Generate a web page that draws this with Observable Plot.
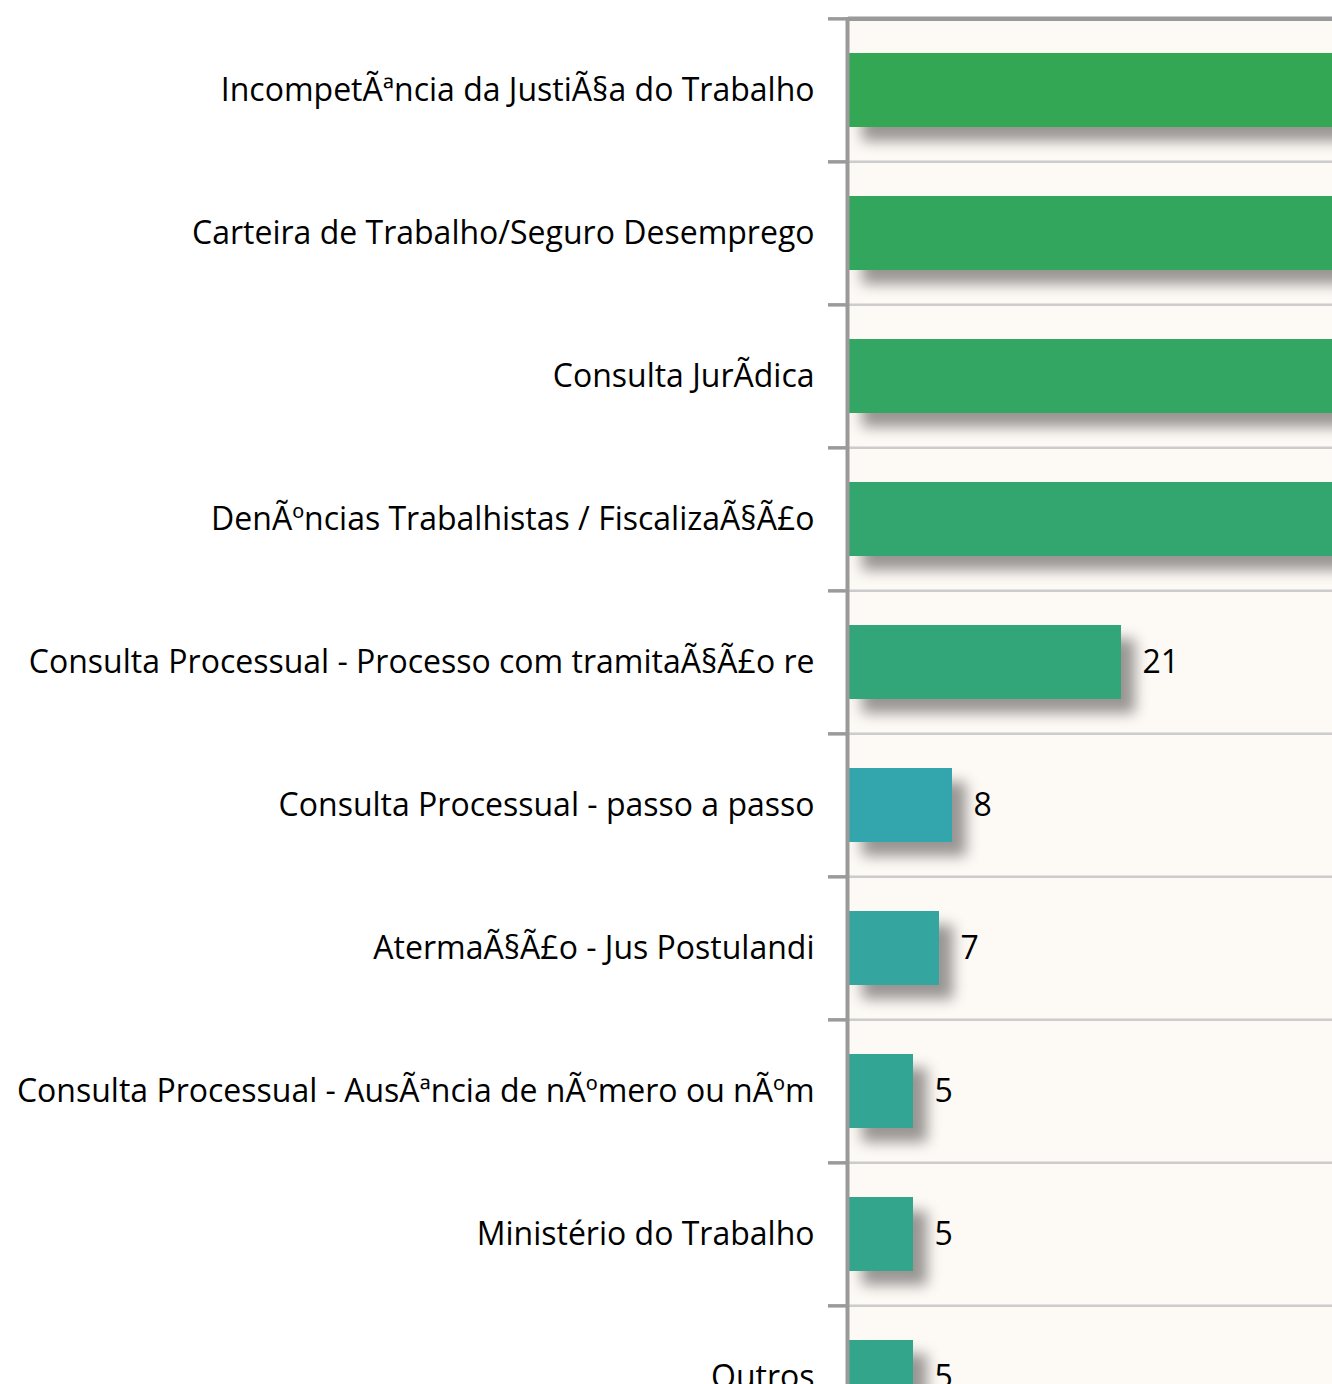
<!DOCTYPE html>
<html>
<head>
<meta charset="utf-8">
<script src="https://cdn.jsdelivr.net/npm/d3@7"></script>
<script src="https://cdn.jsdelivr.net/npm/@observablehq/plot@0.6"></script>
<style>
  html, body { margin: 0; padding: 0; background: #ffffff; overflow: hidden; }
  #chart svg { display: block; max-width: none !important; }
</style>
</head>
<body>
<div id="chart"></div>
<script>
const categories = [
  "IncompetÃªncia da JustiÃ§a do Trabalho",
  "Carteira de Trabalho/Seguro Desemprego",
  "Consulta JurÃdica",
  "DenÃºncias Trabalhistas / FiscalizaÃ§Ã£o",
  "Consulta Processual - Processo com tramitaÃ§Ã£o re",
  "Consulta Processual - passo a passo",
  "AtermaÃ§Ã£o - Jus Postulandi",
  "Consulta Processual - AusÃªncia de nÃºmero ou nÃºm",
  "Ministério do Trabalho",
  "Outros"
];
// the first four bars run past the cropped right edge; their values are estimates
const values = [70, 58, 48, 41, 21, 8, 7, 5, 5, 5];
const colors = ["#33a753", "#33a65d", "#33a664", "#33a66f", "#33a679", "#33a6ad", "#34a69f", "#33a594", "#33a58c", "#33a58a"];

const data = categories.map((c, i) => ({label: c, value: values[i], color: colors[i]}));

const W = 1332, H = 1384;
const left = 848;
const pxPerUnit = 13;
const xMax = (W - left) / pxPerUnit;
const top0 = 17, step = 143.3;
const FONT = "Open Sans, Roboto, sans-serif";

const plot = Plot.plot({
  width: W,
  height: H,
  marginLeft: left,
  marginRight: 0,
  marginTop: top0,
  marginBottom: 0,
  style: {fontFamily: FONT, fontSize: "32px", color: "#000", background: "#ffffff"},
  x: {domain: [0, xMax], axis: null},
  y: {
    domain: categories,
    range: [top0, top0 + step * categories.length],
    paddingInner: 0.483,
    paddingOuter: 0.2415,
    label: null,
    axis: null
  },
  marks: [
    Plot.frame({fill: "#fdf9f5", stroke: null}),
    Plot.ruleY(categories, {y: d => d, dy: -step / 2, stroke: "#cccccc", strokeWidth: 2.5}),
    Plot.ruleY(categories.slice(0, 1), {y: d => d, dy: -step / 2, stroke: "#9a9a9a", strokeWidth: 4.5}),
    Plot.barX(data, {x: "value", y: "label", fill: d => d.color, clip: true}),
    Plot.text(data.filter(d => d.value < xMax - 3), {x: "value", y: "label", text: d => String(d.value), textAnchor: "start", dx: 21, fontSize: 32, fill: "#000"}),
    Plot.ruleX([0], {dx: -1, stroke: "#9a9a9a", strokeWidth: 4}),
    Plot.axisY({ticks: categories, tickSize: 20, tickFormat: () => "", dy: -step / 2, stroke: "#9a9a9a", strokeWidth: 3.5}),
    Plot.axisY({ticks: categories, tickSize: 0, tickPadding: 34, fontSize: 32, fill: "#000"})
  ]
});

document.getElementById("chart").appendChild(plot);
const bars = plot.querySelector('g[aria-label="bar"]');
if (bars) bars.style.filter = "drop-shadow(14px 14px 7px rgba(0,0,0,0.4))";
</script>
</body>
</html>
